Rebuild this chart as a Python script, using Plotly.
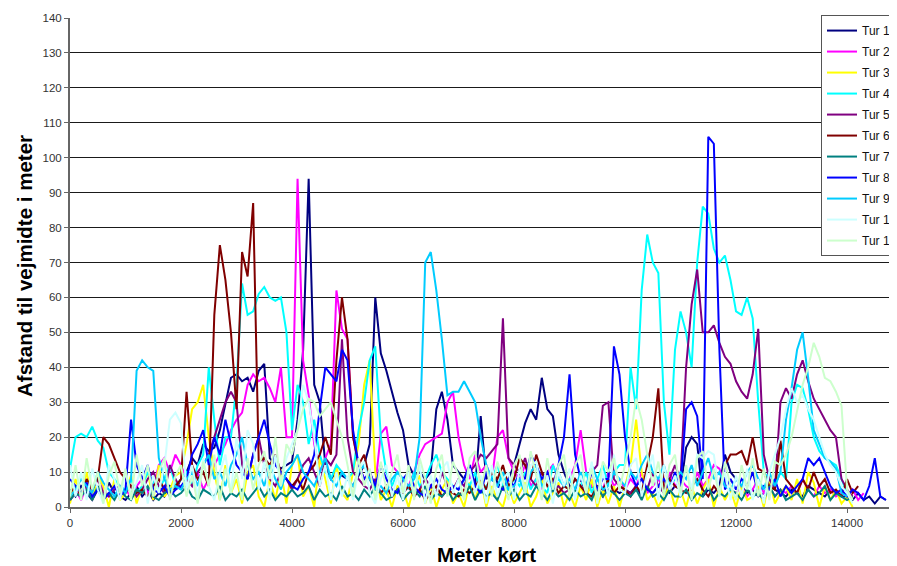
import plotly.graph_objects as go

# distance driven (m), sampled every 100 m
METERS = list(range(0, 14800, 100))

TUR_1 = [5,3,6,4,2,5,3,7,4,3, 2,4,6,3,5,2,4,3,6,5,
         8,10,14,12,18,16,17,22,30,37, 38,36,37,33,39,41,14,12,11,12,
         13,25,45,94,35,30,12,8,10,9, 8,6,9,12,18,60,44,39,33,27,
         22,12,9,10,8,10,28,33,25,12, 10,8,12,6,26,8,10,7,5,8,
         12,18,24,28,25,37,28,26,15,10, 6,5,8,4,6,5,3,7,5,4,
         5,4,6,3,5,4,6,5,4,6, 5,17,20,18,3,5,4,6,15,10,
         8,6,4,5,3,4,6,5,4,3, 5,4,3,6,5,4,3,5,4,3,
         3,2,4,2,3,1,3,2]
TUR_2 = [3,5,2,6,4,8,5,3,6,4, 5,3,6,8,4,6,12,14,10,15,
         12,8,6,10,5,8,12,15,18,22, 25,27,35,38,36,37,34,30,40,20,
         20,94,42,32,18,10,14,18,62,51, 48,20,12,8,10,6,21,23,12,10,
         8,6,10,15,18,19,20,21,30,33, 20,12,8,15,10,12,8,20,22,14,
         10,8,12,6,8,5,10,12,8,6, 8,12,22,10,6,8,5,10,6,8,
         5,8,6,10,4,6,8,5,10,6, 8,6,5,10,6,8,12,11,6,5,
         4,6,3,5,8,4,6,3,5,4, 6,4,8,5,3,6,4,5,3,4,
         3,5,2,4]
TUR_3 = [1,8,3,10,2,9,6,0,8,2, 4,9,1,6,10,2,12,3,5,9,
         10,18,28,30,35,20,10,2,12,4, 8,1,10,12,3,0,8,2,10,1,
         12,15,3,6,0,14,8,1,12,4, 2,10,18,35,42,10,2,5,0,6,
         5,0,6,9,1,6,0,5,8,1, 4,0,7,2,8,0,6,2,0,6,
         1,4,7,0,3,8,1,4,7,0, 4,0,6,2,8,0,5,1,6,0,
         6,12,25,10,2,4,0,3,6,0, 5,0,6,1,5,8,0,6,2,5,
         0,6,2,3,6,0,8,1,4,6, 2,8,1,10,7,0,6,2,5,1,
         3,0]
TUR_4 = [11,20,21,20,23,19,17,10,8,6, 5,8,4,6,10,7,5,8,12,6,
         8,10,6,12,15,40,25,12,20,20, 35,64,55,56,61,63,60,59,60,50,
         22,35,30,18,25,15,10,8,12,10, 8,10,22,30,42,46,20,10,6,10,
         8,5,10,6,8,12,15,10,8,6, 5,8,6,10,4,6,8,12,6,5,
         8,6,10,5,8,6,4,12,8,6, 5,8,6,10,4,8,12,6,10,12,
         12,40,28,62,78,70,67,30,15,45, 56,50,40,70,86,84,74,70,72,65,
         56,55,60,54,30,10,8,6,10,8, 30,35,34,28,20,16,14,13,12,8,
         4,2]
TUR_5 = [2,4,3,6,5,8,4,3,5,6, 4,6,3,5,8,10,6,4,12,8,
         5,8,6,10,12,15,20,25,30,33, 30,12,8,15,20,12,8,6,10,8,
         5,8,12,14,10,6,14,12,15,48, 20,10,8,6,5,8,4,6,3,5,
         4,6,3,5,8,6,4,10,6,5, 8,6,10,12,15,14,16,18,54,14,
         12,10,14,8,6,10,8,5,6,4, 5,8,6,4,10,12,29,30,8,6,
         5,4,6,8,5,10,6,4,8,12, 8,40,58,68,50,50,52,47,43,41,
         36,33,31,38,51,15,8,5,30,34, 31,38,42,36,31,28,25,22,20,8,
         5,3]
TUR_6 = [4,6,3,8,5,8,20,18,14,10, 8,6,4,5,3,6,8,5,4,6,
         8,33,12,8,10,6,55,75,65,50, 28,73,66,87,13,14,12,15,10,8,
         6,8,5,10,12,15,20,15,42,60, 48,20,12,15,8,5,4,6,3,5,
         4,6,3,5,2,4,6,3,5,4, 3,5,4,6,8,5,10,8,12,6,
         8,14,12,8,15,10,6,8,4,6, 5,8,6,4,3,6,5,8,4,6,
         5,3,6,4,12,20,34,5,8,6, 5,4,6,8,5,3,6,4,12,15,
         15,16,12,20,11,10,6,5,19,8, 6,4,8,5,10,6,8,4,5,3,
         8,4,6]
TUR_7 = [2,4,3,5,2,6,3,4,2,5, 3,2,5,4,6,3,2,4,5,3,
         4,6,3,2,5,4,3,6,2,4, 3,5,2,4,6,3,5,2,4,3,
         5,3,4,6,2,5,3,4,2,6, 3,4,2,5,3,6,4,2,3,5,
         2,4,5,3,6,2,4,3,5,2, 4,3,6,2,5,3,4,2,6,3,
         5,2,4,3,6,4,2,5,3,4, 2,5,3,4,2,6,3,5,4,2,
         4,3,5,2,6,3,4,2,5,3, 3,5,2,4,3,6,2,4,3,5,
         4,2,5,3,4,2,6,3,5,2, 3,4,2,5,3,4,6,2,4,3,
         2,3]
TUR_8 = [8,6,4,7,3,5,2,4,6,3, 5,25,12,8,12,5,4,6,3,5,
         6,8,15,18,22,12,20,15,25,18, 12,10,8,15,20,25,18,12,10,8,
         6,5,8,10,15,28,40,38,36,45, 42,22,12,8,10,6,12,8,5,4,
         8,10,6,4,3,6,8,5,4,6, 5,8,12,6,4,10,8,6,5,8,
         6,10,8,15,12,8,10,6,12,20, 38,15,8,6,10,5,8,8,46,38,
         20,10,6,8,5,4,6,8,5,10, 6,28,30,26,8,106,104,45,5,8,
         5,8,6,10,4,6,5,8,3,6, 4,6,8,14,12,14,10,6,4,5,
         3,5,4,2,6,14,3,2]
TUR_9 = [3,5,8,6,4,10,7,5,3,6, 4,8,39,42,40,39,14,8,5,6,
         5,8,10,6,12,15,8,10,6,12, 15,20,12,8,10,6,12,8,5,10,
         12,15,10,8,6,10,14,8,6,10, 8,6,10,12,8,5,6,4,8,10,
         8,6,8,20,70,73,62,48,32,33, 33,36,33,30,20,12,8,6,10,5,
         6,8,4,10,12,6,8,5,10,6, 8,5,10,6,12,8,5,6,10,8,
         6,10,8,12,15,10,8,12,6,8, 10,8,12,6,10,14,8,10,6,5,
         8,6,10,12,8,5,10,6,10,25, 34,45,50,37,22,18,14,13,11,4,
         3]
TUR_10 = [12,3,10,2,11,5,1,12,8,2, 10,3,7,12,1,9,4,12,25,27,
          24,5,12,3,14,6,2,10,15,4, 20,8,22,18,5,13,2,15,6,14,
          18,22,35,30,20,6,12,2,10,3, 9,2,11,13,4,1,8,12,3,9,
          2,10,4,12,1,9,3,11,13,4, 8,2,11,4,9,1,12,3,8,10,
          2,11,4,12,13,3,9,1,10,6, 11,2,9,4,13,1,10,3,15,5,
          4,12,14,3,10,15,2,12,5,9, 3,12,5,15,14,16,15,4,10,2,
          9,3,11,2,8,1,10,15,20,28, 34,30,32,28,25,20,15,12,10,6,
          4,1]
TUR_11 = [3,12,2,14,5,10,1,9,13,4, 11,2,15,6,12,3,10,14,2,9,
          12,3,9,1,13,6,15,2,11,4, 10,2,14,5,12,16,8,20,6,18,
          15,22,28,31,30,26,28,30,25,20, 12,3,14,6,11,2,13,5,10,15,
          4,12,2,14,8,1,11,15,3,13, 9,2,14,16,5,12,3,13,8,2,
          12,15,4,16,9,2,14,5,12,15, 3,12,15,4,11,2,13,10,14,5,
          12,20,31,25,15,6,13,3,12,15, 4,12,2,14,16,5,11,3,13,6,
          2,12,5,14,3,11,2,13,12,15, 20,28,35,40,47,43,37,36,33,29,
          5,2]

SERIES = [
    ("Tur 1", TUR_1, "#000080"),
    ("Tur 2", TUR_2, "#FF00FF"),
    ("Tur 3", TUR_3, "#FFFF00"),
    ("Tur 4", TUR_4, "#00FFFF"),
    ("Tur 5", TUR_5, "#800080"),
    ("Tur 6", TUR_6, "#800000"),
    ("Tur 7", TUR_7, "#008080"),
    ("Tur 8", TUR_8, "#0000FF"),
    ("Tur 9", TUR_9, "#00CCFF"),
    ("Tur 10", TUR_10, "#CCFFFF"),
    ("Tur 11", TUR_11, "#CCFFCC"),
]

X_TICKS = [0, 2000, 4000, 6000, 8000, 10000, 12000, 14000]

fig = go.Figure()
for name, vals, col in SERIES:
    ys = list(vals) + [None] * (len(METERS) - len(vals))
    fig.add_trace(go.Scatter(
        x=METERS, y=ys, name=name, mode="lines",
        line=dict(color=col, width=2),
        legendgroup=name, connectgaps=False,
    ))

FONT = "Liberation Sans, Arial, sans-serif"
# the page body adds an 8px offset; the figure is sized to compensate
fig.update_layout(
    width=889, height=558,
    margin=dict(l=62, r=0, t=10, b=59, autoexpand=False),
    paper_bgcolor="white", plot_bgcolor="white",
    font=dict(family=FONT, size=11, color="#222"),
    showlegend=True,
    legend=dict(
        x=(821 - 70) / 827, xanchor="left", y=1.006, yanchor="top",
        bgcolor="white", bordercolor="#555", borderwidth=1,
        font=dict(family=FONT, size=12, color="#111"),
        tracegroupgap=2, itemwidth=30,
    ),
    xaxis=dict(
        range=[0, 14900], tickvals=X_TICKS, tickformat="d", showgrid=False, zeroline=False,
        showline=True, linecolor="#666", linewidth=2,
        ticks="outside", ticklen=4, tickcolor="#666",
        tickfont=dict(family=FONT, size=11.5, color="#333"),
    ),
    yaxis=dict(
        range=[0, 140], dtick=10, showgrid=True, gridcolor="#1a1a1a", gridwidth=1,
        zeroline=False, showline=True, linecolor="#666", linewidth=2,
        ticks="outside", ticklen=4, tickcolor="#666",
        tickfont=dict(family=FONT, size=11.5, color="#333"),
    ),
    annotations=[
        dict(text="<b>Meter kørt</b>", xref="paper", yref="paper",
             x=(486 - 70) / 827, y=-(554 - 507) / 489, xanchor="center", yanchor="middle",
             showarrow=False, font=dict(family=FONT, size=20.5, color="#000")),
        dict(text="<b>Afstand til vejmidte i meter</b>", xref="paper", yref="paper",
             x=-(70 - 24) / 827, y=(507 - 266) / 489, xanchor="center", yanchor="middle",
             textangle=-90, showarrow=False, font=dict(family=FONT, size=20.5, color="#000")),
    ],
)

fig.write_html("out.html")
